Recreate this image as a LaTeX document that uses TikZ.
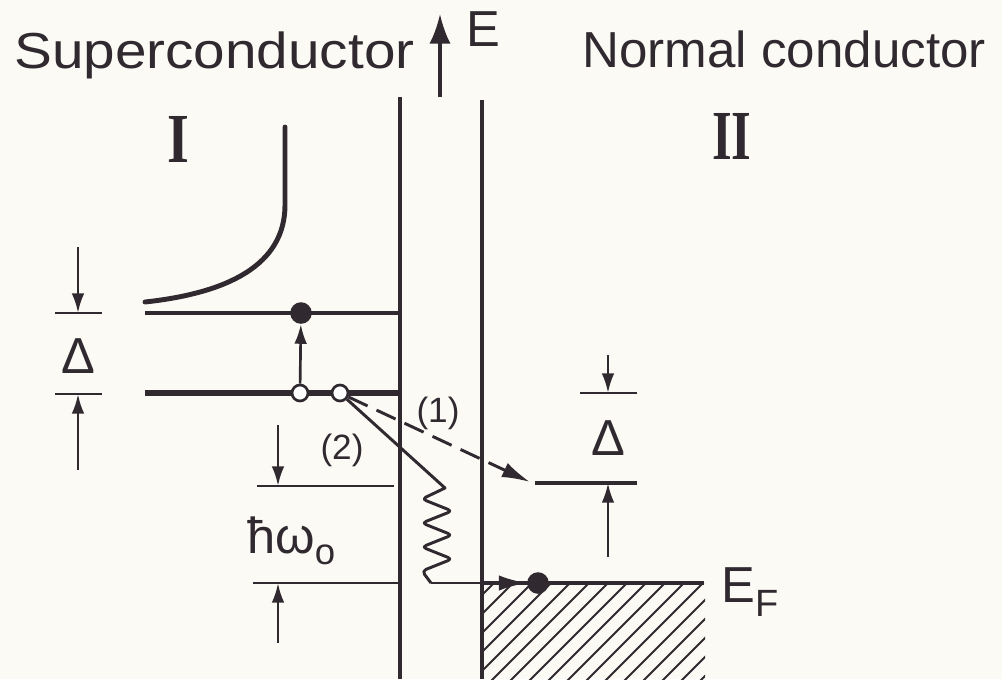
\documentclass[tikz,border=0pt]{standalone}
\usepackage{fontspec}
\setmainfont{Liberation Sans}
\newfontfamily\romfont{Liberation Serif}
\usetikzlibrary{arrows.meta}
\definecolor{ink}{RGB}{48,42,48}
\definecolor{paper}{RGB}{252,250,245}
\tikzset{
  wall/.style={draw=ink, line width=2.3pt},
  level/.style={draw=ink, line width=2.3pt},
  thicklevel/.style={draw=ink, line width=4.8pt},
  curveline/.style={draw=ink, line width=3.5pt, line cap=round},
  tick/.style={draw=ink, line width=2pt},
  dimarrow/.style={draw=ink, line width=1.9pt, -{Latex[length=14pt,width=9pt]}},
  bigarrow/.style={draw=ink, line width=2.1pt, -{Latex[length=20pt,width=11pt]}},
  axisarrow/.style={draw=ink, line width=2.3pt, -{Latex[length=21pt,width=15pt]}},
  dashedarrow/.style={draw=ink, line width=2.1pt, dash pattern=on 15pt off 7pt, -{Latex[length=20pt,width=11pt]}},
  transfer/.style={draw=ink, line width=2.1pt, line join=round},
  hatchline/.style={draw=ink, line width=1.3pt},
  fdot/.style={circle, fill=ink, inner sep=0pt, minimum size=0.54cm},
  odot/.style={circle, draw=ink, fill=white, line width=1.9pt, inner sep=0pt, minimum size=0.40cm},
  lab/.style={text=ink, inner sep=0pt, font=\fontsize{36}{40}\selectfont},
  smalllab/.style={text=ink, inner sep=0pt, font=\fontsize{25}{28}\selectfont},
  romanlab/.style={text=ink, inner sep=0pt, font=\romfont\bfseries\fontsize{50}{54}\selectfont},
}
\begin{document}
\begin{tikzpicture}[x=0.025cm,y=-0.025cm]
\fill[paper] (0,0) rectangle (1002,679);
\useasboundingbox (0,0) rectangle (1002,679);

% titles
\node[lab, anchor=base west] (tS) at (14,68) {\scalebox{1.12}[1]{Superconductor}};
\node[lab, anchor=base west] (tN) at (582,67) {\scalebox{1.01}[1]{Normal conductor}};
\node[romanlab] (rI) at (178,139) {\scalebox{0.8}[1]{I}};
\node[romanlab] (rII) at (732,136) {\scalebox{0.72}[1]{II}};

% energy axis
\coordinate (eb) at (440,97);
\coordinate (et) at (440,14);
\draw[axisarrow] (eb) -- (et);
\node[lab, anchor=base west] (lE) at (466,46) {E};

% barrier walls
\coordinate (wLt) at (400,97);
\coordinate (wLb) at (400,679);
\coordinate (wRt) at (482,100);
\coordinate (wRb) at (482,679);
\draw[wall] (wLt) -- (wLb);
\draw[wall] (wRt) -- (wRb);

% density of states curve
\coordinate (c0) at (145,302);
\coordinate (c1) at (285,205);
\coordinate (c2) at (285,127);
\draw[curveline] (c0) .. controls (228,293) and (285,265) .. (c1) -- (c2);

% superconductor levels
\coordinate (u1) at (145,313);
\coordinate (u2) at (400,313);
\draw[level] (u1) -- (u2);
\coordinate (g1) at (145,393);
\coordinate (g2) at (400,393);
\draw[thicklevel] (g1) -- (g2);

% normal conductor levels
\coordinate (n1) at (535,483);
\coordinate (n2) at (637,483);
\draw[level] (n1) -- (n2);
\coordinate (f1) at (482,583);
\coordinate (f2) at (704,583);
\draw[level] (f1) -- (f2);

% hatching below E_F
\begin{scope}
\clip (482,583) rectangle (705,679);
\foreach \x in {392,411,...,720} {\draw[hatchline] (\x,685) -- ++(120,-120);}
\end{scope}

% particles
\node[fdot] (d1) at (301,313) {};
\node[odot] (o1) at (300,393) {};
\node[odot] (o2) at (340,393) {};
\node[fdot] (d2) at (538,583) {};
\draw[dimarrow] (o1) -- (d1);

% process (1)
\coordinate (p1) at (530,482);
\draw[dashedarrow] (o2) -- (p1);
\node[smalllab] (l1) at (438,413) {(1)};

% process (2) with phonon emission
\coordinate (z0) at (445,488);
\coordinate (zE) at (431,583);
\draw[transfer] (o2) -- (z0) [rounded corners=3pt] -- (422,499) -- (452,511) -- (422,523) -- (452,535) -- (422,547) -- (452,559) -- (422,571) -- (zE);
\draw[bigarrow] (zE) -- (d2);
\node[smalllab] (l2) at (342,450) {(2)};

% left Delta dimension
\coordinate (a1) at (55,313);  \coordinate (a2) at (102,313);
\coordinate (a3) at (55,394);  \coordinate (a4) at (102,394);
\draw[tick] (a1) -- (a2);
\draw[tick] (a3) -- (a4);
\coordinate (a5) at (78,247);  \coordinate (a6) at (78,313);
\coordinate (a7) at (78,470);  \coordinate (a8) at (78,394);
\draw[dimarrow] (a5) -- (a6);
\draw[dimarrow] (a7) -- (a8);
\node[lab] (dL) at (78,356) {Δ};

% hbar omega dimension
\coordinate (h1) at (257,486);  \coordinate (h2) at (394,486);
\coordinate (h3) at (253,583);  \coordinate (h4) at (400,583);
\draw[tick] (h1) -- (h2);
\draw[tick] (h3) -- (h4);
\coordinate (h5) at (278,425);  \coordinate (h6) at (278,486);
\coordinate (h7) at (278,643);  \coordinate (h8) at (278,583);
\draw[dimarrow] (h5) -- (h6);
\draw[dimarrow] (h7) -- (h8);
\node[lab, anchor=base west] (hw) at (247,553) {ħω\raisebox{-0.22em}{\fontsize{26}{28}\selectfont o}};

% right Delta dimension
\coordinate (r1) at (580,393);  \coordinate (r2) at (637,393);
\draw[tick] (r1) -- (r2);
\coordinate (r3) at (608,355);  \coordinate (r4) at (608,393);
\coordinate (r5) at (608,557);  \coordinate (r6) at (608,483);
\draw[dimarrow] (r3) -- (r4);
\draw[dimarrow] (r5) -- (r6);
\node[lab] (dR) at (608,438) {Δ};

% Fermi level label
\node[lab, anchor=base west] (EF) at (721,602) {E\raisebox{-0.28em}{\fontsize{27}{28}\selectfont F}};
\end{tikzpicture}
\end{document}
